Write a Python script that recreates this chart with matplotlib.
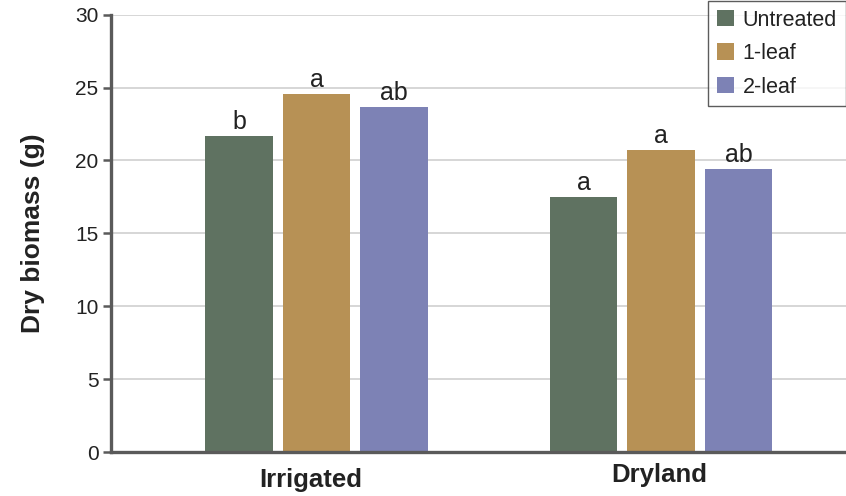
import matplotlib
matplotlib.use("Agg")
import matplotlib.pyplot as plt
from matplotlib.transforms import ScaledTranslation
import numpy as np

plt.rcParams['font.family'] = ['Liberation Sans', 'DejaVu Sans']

groups = ["Irrigated", "Dryland"]
treatments = ["Untreated", "1-leaf", "2-leaf"]
values = {
    "Untreated": [21.7, 17.5],
    "1-leaf": [24.55, 20.7],
    "2-leaf": [23.65, 19.4],
}
letters = {
    "Untreated": ["b", "a"],
    "1-leaf": ["a", "a"],
    "2-leaf": ["ab", "ab"],
}
colors = ["#5f7261", "#b79155", "#7d82b5"]
yticks = [0, 5, 10, 15, 20, 25, 30]

fig = plt.figure(figsize=(8.46, 4.96), dpi=100)
ax = fig.add_axes([111/846, 44/496, 1 - 111/846, (452 - 14.7)/496])

x = np.arange(len(groups))
width = 0.197
step = 0.225
for i, (t, c) in enumerate(zip(treatments, colors)):
    pos = x + (i - 1) * step
    bars = ax.bar(pos, values[t], width=width, color=c, label=t, zorder=3)
    for b, lab in zip(bars, letters[t]):
        ax.annotate(lab, (b.get_x() + b.get_width()/2, b.get_height()),
                    xytext=(0, 1.5), textcoords="offset points",
                    ha="center", va="bottom", fontsize=18, color="#222222",
                    zorder=5)

ax.set_xlim(-0.5965, 1.537)
ax.set_ylim(0, 30)
ax.set_yticks(yticks)
ax.set_yticklabels([str(v) for v in yticks], fontsize=15, color="#222222")
ax.set_xticks(x)
ax.set_xticklabels([])
ax.tick_params(axis="x", length=0)
ax.tick_params(axis="y", length=6, width=1.8, color="#5a5a5a", pad=3)

# group labels, with small per-label offsets as in the reference
label_offsets_px = [(-6, -35), (-2, -30)]
for xi, g, (dx, dy) in zip(x, groups, label_offsets_px):
    tr = ax.get_xaxis_transform() + ScaledTranslation(dx/100, dy/100, fig.dpi_scale_trans)
    ax.text(xi, 0, g, transform=tr, ha="center", va="baseline",
            fontsize=18.5, fontweight="bold", color="#222222")

ax.set_ylabel("Dry biomass (g)", fontsize=19, fontweight="bold", color="#222222", labelpad=22)

ax.yaxis.grid(True, color="#d6d6d6", linewidth=1.4, zorder=0)
ax.set_axisbelow(True)
for s in ["top", "right"]:
    ax.spines[s].set_visible(False)
for s in ["left", "bottom"]:
    ax.spines[s].set_color("#5a5a5a")
    ax.spines[s].set_linewidth(2.4)
    ax.spines[s].set_zorder(4)

leg = ax.legend(loc="upper right", bbox_to_anchor=(845.5/846, 495/496),
                bbox_transform=fig.transFigure, fontsize=15.5, frameon=True,
                fancybox=False, edgecolor="#333333", borderpad=0.4,
                handlelength=0.8, handleheight=0.8, handletextpad=0.4,
                labelspacing=0.58, borderaxespad=0)
leg.get_frame().set_linewidth(1.0)
for txt in leg.get_texts():
    txt.set_color("#222222")

fig.savefig("out.png", dpi=100)
